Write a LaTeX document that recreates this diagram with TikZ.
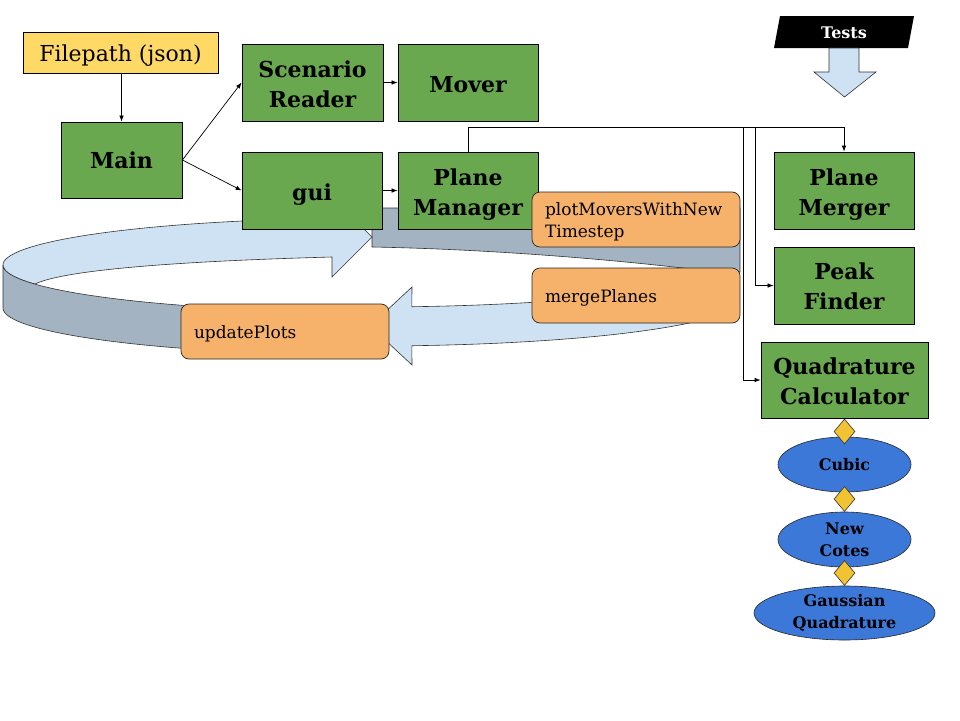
\documentclass[tikz,border=0pt]{standalone}
\usepackage{fontspec}
\setmainfont{DejaVu Serif}
\usetikzlibrary{arrows.meta,shapes.geometric}
\definecolor{grn}{HTML}{6AA84F}
\definecolor{org}{HTML}{F6B26B}
\definecolor{yel}{HTML}{FFD966}
\definecolor{dia}{HTML}{F1C232}
\definecolor{blu}{HTML}{3C78D8}
\definecolor{ltb}{HTML}{CFE2F3}
\definecolor{gry}{HTML}{A4B3C2}
\newcommand{\lowered}[2]{\raisebox{-#1}[\height][\depth]{\begin{tabular}{@{}c@{}}#2\end{tabular}}}
\begin{document}
\begin{tikzpicture}[x=1pt,y=-1pt,
  gbox/.style={draw=black, line width=0.8pt, fill=grn, minimum width=140pt, minimum height=77pt, inner sep=0pt, align=center, font=\fontsize{22}{30}\selectfont\bfseries},
  obox/.style={draw=black!85, line width=0.7pt, fill=org, rounded corners=8pt, minimum height=55pt, text width=182pt, inner xsep=13pt, inner ysep=0pt, align=left, font=\fontsize{17}{23}\selectfont, execute at begin node={\rule{0pt}{17pt}}},
  elli/.style={ellipse, draw=black!85, line width=0.6pt, fill=blu, inner sep=0pt, align=center, font=\fontsize{16}{22}\selectfont\bfseries},
  dmd/.style={diamond, draw=black!80, line width=0.6pt, fill=dia, inner sep=0pt, minimum width=21pt, minimum height=25pt},
  ring/.style={draw=black!80, line width=0.6pt},
  arr/.style={-{Latex[length=6pt,width=4.5pt]}, line width=0.7pt}
]
\fill[white] (0,0) rectangle (960,720);
\useasboundingbox (0,0) rectangle (960,720);

% ring: grey back part
\filldraw[ring, fill=gry] (372,208) -- (740,208) -- (740,272) -- (700,270) .. controls (600,258) and (480,249) .. (372,247) -- cycle;
% ring: upper light blue band with arrow head
\filldraw[ring, fill=ltb] plot[domain=155.9:263.8, samples=60, variable=\t] ({372+369*cos(\t)},{265+47*sin(\t)})
  -- (332,197) -- (372,237) -- (332,277) -- (332,257) .. controls (150,262) and (60,272) .. (35,284) -- cycle;
% ring: grey left side
\filldraw[ring, fill=gry] plot[domain=180:100, samples=50, variable=\t] ({372+369*cos(\t)},{265+47*sin(\t)})
  -- plot[domain=100:180, samples=50, variable=\t] ({372+369*cos(\t)},{308+47*sin(\t)}) -- cycle;
% ring: lower light blue band with arrow head
\filldraw[ring, fill=ltb] (412,287) -- (370,326) -- (412,365)
  -- plot[domain=83.8:27.3, samples=50, variable=\t] ({372+369*cos(\t)},{299+47*sin(\t)})
  -- plot[domain=27.3:83.8, samples=50, variable=\t] ({372+369*cos(\t)},{260+47*sin(\t)}) -- cycle;

% boxes
\node[draw=black, line width=0.8pt, fill=yel, minimum width=195pt, minimum height=41pt, inner sep=0pt, font=\fontsize{22}{28}\selectfont, execute at begin node={\rule{0pt}{22pt}}] (fp) at (120.5,52.5) {Filepath (json)};
\node[gbox, minimum width=121pt, minimum height=76pt] (main) at (121.5,160) {\lowered{2pt}{Main}};
\node[gbox, minimum width=141pt] (sr) at (312.5,82.5) {\lowered{4pt}{Scenario\\Reader}};
\node[gbox] (mover) at (468,83) {\lowered{3pt}{Mover}};
\node[gbox] (gui) at (312,190.5) {\lowered{4pt}{gui}};
\node[gbox] (pm) at (468,190.5) {\lowered{4pt}{Plane\\Manager}};
\node[gbox] (merger) at (844,190.5) {\lowered{4pt}{Plane\\Merger}};
\node[gbox] (peak) at (844,285.5) {\lowered{3pt}{Peak\\Finder}};
\node[gbox, minimum width=167pt, minimum height=76pt] (quad) at (844.5,380) {\lowered{3pt}{Quadrature\\Calculator}};

\node[obox] (plot) at (636,219.5) {plotMoversWithNew\\[-1pt]Timestep};
\node[obox] (merge) at (636,295.5) {mergePlanes};
\node[obox] (upd) at (285,331.5) {updatePlots};

% tests
\fill[black] (780,16) -- (914,16) -- (908,48) -- (774,48) -- cycle;
\node[text=white, font=\fontsize{16}{18}\selectfont\bfseries, inner sep=0pt] (tests) at (844,33) {Tests};
\filldraw[ring, fill=ltb] (829,48) -- (859,48) -- (859,72) -- (876,72) -- (844.5,97) -- (814,72) -- (829,72) -- cycle;

% quadrature methods
\node[elli, minimum width=133pt, minimum height=55pt] (cubic) at (844.5,464.5) {Cubic};
\node[elli, minimum width=133pt, minimum height=55pt] (newc) at (844.5,539.5) {New\\Cotes};
\node[elli, minimum width=181pt, minimum height=54pt] (gauss) at (844.5,613) {Gaussian\\Quadrature};
\node[dmd] (d1) at (844.5,431.5) {};
\node[dmd] (d2) at (844.5,499) {};
\node[dmd] (d3) at (844.5,573) {};

% connectors
\draw[arr] (fp.south -| main.north) -- (main.north);
\draw[arr] (main.east) -- (sr.west);
\draw[arr] (main.east) -- (gui.west);
\draw[arr] (sr.east) -- (sr.east -| mover.west);
\draw[arr] (gui.east) -- (pm.west);
\coordinate (bus) at (468,127);
\coordinate (b1) at (755,127);
\coordinate (b2) at (743,127);
\draw[arr] (pm.north) -- (bus) -| (merger.north);
\draw[arr] (b1) |- (peak.west);
\draw[arr] (b2) |- (quad.west);
\end{tikzpicture}
\end{document}
